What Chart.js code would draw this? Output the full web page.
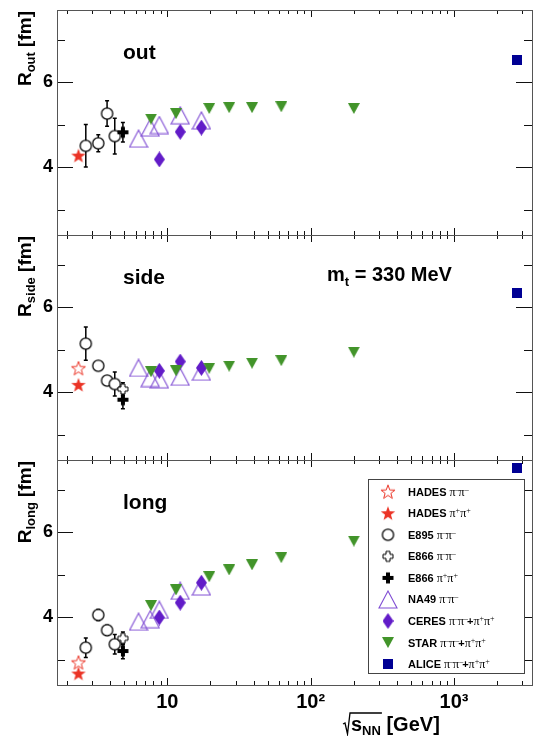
<!DOCTYPE html>
<html lang="en">
<head>
<meta charset="UTF-8">
<title>HBT radii vs collision energy</title>
<script src="https://cdn.jsdelivr.net/npm/chart.js"></script>
<style>
  html, body { margin: 0; padding: 0; background: #fff; }
  #wrap { position: relative; width: 533px; height: 736px; }
  canvas { display: block; }
</style>
</head>
<body>
<div id="wrap"><canvas id="radii" width="533" height="736"></canvas></div>
<script>
// ---- data (sqrt(sNN) in GeV, radii in fm) ----
const hadesEnergy = [2.4];
const hadesMinusSide = [4.56];
const hadesMinusLong = [2.93];
const hadesPlusOut = [4.27];
const hadesPlusSide = [4.17];
const hadesPlusLong = [2.67];

const e895Energy = [2.7, 3.3, 3.8, 4.3];
const e895Out = [4.50, 4.56, 5.26, 4.73];
const e895OutErr = [0.50, 0.20, 0.30, 0.42];
const e895Side = [5.14, 4.62, 4.27, 4.19];
const e895SideErr = [0.39, 0.08, 0.08, 0.28];
const e895Long = [3.28, 4.05, 3.69, 3.36];
const e895LongErr = [0.23, 0.13, 0.12, 0.23];

const e866Energy = [4.9];
const e866MinusSide = [4.07];
const e866MinusSideErr = [0.15];
const e866MinusLong = [3.50];
const e866MinusLongErr = [0.15];
const e866PlusOut = [4.82];
const e866PlusOutErr = [0.23];
const e866PlusSide = [3.82];
const e866PlusSideErr = [0.21];
const e866PlusLong = [3.20];
const e866PlusLongErr = [0.18];

const na49Energy = [6.3, 7.6, 8.8, 12.3, 17.3];
const na49Out = [4.67, 4.93, 4.99, 5.22, 5.10];
const na49Side = [4.57, 4.33, 4.30, 4.36, 4.48];
const na49Long = [3.89, 3.95, 4.17, 4.62, 4.72];

const ceresEnergy = [8.8, 12.3, 17.3];
const ceresOut = [4.18, 4.83, 4.93];
const ceresSide = [4.50, 4.72, 4.57];
const ceresLong = [3.99, 4.34, 4.81];

const starEnergy = [7.7, 11.5, 19.6, 27, 39, 62.4, 200];
const starOut = [5.13, 5.26, 5.38, 5.40, 5.40, 5.42, 5.38];
const starSide = [4.48, 4.50, 4.56, 4.61, 4.68, 4.74, 4.94];
const starLong = [4.27, 4.64, 4.95, 5.11, 5.23, 5.40, 5.79];

const aliceEnergy = [2760];
const aliceOut = [6.53];
const aliceSide = [6.34];
const aliceLong = [7.51];

// axes / labels
const panelIds = ['yOut', 'ySide', 'yLong'];
const panelNames = ['out', 'side', 'long'];
const yTickVals = [3, 4, 5, 6, 7];
const yTickLabels = { 4: '4', 6: '6' };
const xTickVals = [2, 3, 4, 5, 6, 7, 8, 9, 10, 20, 30, 40, 50, 60, 70, 80, 90,
                   100, 200, 300, 400, 500, 600, 700, 800, 900, 1000, 2000, 3000];
const xTickLabels = { 10: '10', 100: '10\u00b2', 1000: '10\u00b3' };
const legendNames = ['HADES', 'HADES', 'E895', 'E866', 'E866', 'NA49', 'CERES', 'STAR', 'ALICE'];
const legendPairs = ['π-π-', 'π+π+', 'π-π-', 'π-π-', 'π+π+', 'π-π-', 'π-π-+π+π+', 'π-π-+π+π+', 'π-π-+π+π+'];

// ---- marker images ----
const RED = 'rgb(235,52,38)';
const NA49C = 'rgb(128,78,212)';
const CERESC = 'rgb(98,28,200)';
const STARC = 'rgb(66,148,42)';
const ALICEC = 'rgb(0,0,148)';
const SANS = '"Liberation Sans", Arial, sans-serif';

function mk(w, h, paint) {
  const c = document.createElement('canvas');
  c.width = w; c.height = h;
  paint(c.getContext('2d'), w / 2, h / 2, w, h);
  return c;
}
function starPath(g, cx, cy, R, r) {
  g.beginPath();
  for (let i = 0; i < 10; i++) {
    const a = -Math.PI / 2 + i * Math.PI / 5;
    const rr = i % 2 ? r : R;
    g.lineTo(cx + rr * Math.cos(a), cy + rr * Math.sin(a));
  }
  g.closePath();
}
function crossPath(g, cx, cy, a, t) {
  const p = [[-t,-a],[t,-a],[t,-t],[a,-t],[a,t],[t,t],[t,a],[-t,a],[-t,t],[-a,t],[-a,-t],[-t,-t]];
  g.beginPath();
  p.forEach(q => g.lineTo(cx + q[0], cy + q[1]));
  g.closePath();
}
const mStarOpen = mk(18, 18, (g, cx, cy) => {
  starPath(g, cx, cy + 0.6, 7.4, 3.0);
  g.strokeStyle = RED; g.lineWidth = 1; g.stroke();
});
const mStarFull = mk(18, 18, (g, cx, cy) => {
  starPath(g, cx, cy + 0.6, 7.6, 3.1);
  g.fillStyle = RED; g.fill();
});
const mCircle = mk(15, 15, (g, cx, cy) => {
  g.beginPath(); g.arc(cx, cy, 5.6, 0, Math.PI * 2);
  g.fillStyle = '#fff'; g.fill();
  g.strokeStyle = '#000'; g.lineWidth = 1.3; g.stroke();
});
const mCrossOpen = mk(14, 14, (g, cx, cy) => {
  crossPath(g, cx, cy, 5, 2);
  g.fillStyle = '#fff'; g.fill();
  g.strokeStyle = '#000'; g.lineWidth = 1; g.stroke();
});
const mCrossFull = mk(14, 14, (g, cx, cy) => {
  crossPath(g, cx, cy, 5.5, 2);
  g.fillStyle = '#000'; g.fill();
});
const mTriangle = mk(20, 19, (g, cx, cy, w, h) => {
  g.beginPath(); g.moveTo(cx, 1); g.lineTo(w - 1, h - 1); g.lineTo(1, h - 1); g.closePath();
  g.strokeStyle = NA49C; g.lineWidth = 1.1; g.stroke();
});
const mDiamond = mk(11, 16, (g, cx, cy, w, h) => {
  g.beginPath(); g.moveTo(cx, 0); g.lineTo(w, cy); g.lineTo(cx, h); g.lineTo(0, cy); g.closePath();
  g.fillStyle = CERESC; g.fill();
});
const mTriDown = mk(12, 11, (g, cx, cy, w, h) => {
  g.beginPath(); g.moveTo(0, 0); g.lineTo(w, 0); g.lineTo(cx, h); g.closePath();
  g.fillStyle = STARC; g.fill();
});
const mSquare = mk(10, 10, (g, cx, cy, w, h) => {
  g.fillStyle = ALICEC; g.fillRect(0, 0, w, h);
});
const legendMarkers = [mStarOpen, mStarFull, mCircle, mCrossOpen, mCrossFull, mTriangle, mDiamond, mTriDown, mSquare];

function series(label, xs, ys, axis, style, errs) {
  return {
    label: label,
    data: xs.map((x, i) => ({ x: x, y: ys[i] })),
    yAxisID: axis,
    pointStyle: style,
    pointRadius: 5,
    errors: errs || null
  };
}

// first dataset is drawn on top
const datasets = [
  series('HADES π+π+', hadesEnergy, hadesPlusOut, 'yOut', mStarFull),
  series('HADES π+π+', hadesEnergy, hadesPlusSide, 'ySide', mStarFull),
  series('HADES π+π+', hadesEnergy, hadesPlusLong, 'yLong', mStarFull),
  series('HADES π-π-', hadesEnergy, hadesMinusSide, 'ySide', mStarOpen),
  series('HADES π-π-', hadesEnergy, hadesMinusLong, 'yLong', mStarOpen),
  series('E866 π+π+', e866Energy, e866PlusOut, 'yOut', mCrossFull, e866PlusOutErr),
  series('E866 π+π+', e866Energy, e866PlusSide, 'ySide', mCrossFull, e866PlusSideErr),
  series('E866 π+π+', e866Energy, e866PlusLong, 'yLong', mCrossFull, e866PlusLongErr),
  series('E866 π-π-', e866Energy, e866MinusSide, 'ySide', mCrossOpen, e866MinusSideErr),
  series('E866 π-π-', e866Energy, e866MinusLong, 'yLong', mCrossOpen, e866MinusLongErr),
  series('E895 π-π-', e895Energy, e895Out, 'yOut', mCircle, e895OutErr),
  series('E895 π-π-', e895Energy, e895Side, 'ySide', mCircle, e895SideErr),
  series('E895 π-π-', e895Energy, e895Long, 'yLong', mCircle, e895LongErr),
  series('ALICE', aliceEnergy, aliceOut, 'yOut', mSquare),
  series('ALICE', aliceEnergy, aliceSide, 'ySide', mSquare),
  series('ALICE', aliceEnergy, aliceLong, 'yLong', mSquare),
  series('STAR', starEnergy, starOut, 'yOut', mTriDown),
  series('STAR', starEnergy, starSide, 'ySide', mTriDown),
  series('STAR', starEnergy, starLong, 'yLong', mTriDown),
  series('CERES', ceresEnergy, ceresOut, 'yOut', mDiamond),
  series('CERES', ceresEnergy, ceresSide, 'ySide', mDiamond),
  series('CERES', ceresEnergy, ceresLong, 'yLong', mDiamond),
  series('NA49', na49Energy, na49Out, 'yOut', mTriangle),
  series('NA49', na49Energy, na49Side, 'ySide', mTriangle),
  series('NA49', na49Energy, na49Long, 'yLong', mTriangle)
];

// ---- plugins ----
const frameTicks = {
  id: 'frameTicks',
  beforeDatasetsDraw(chart) {
    const ctx = chart.ctx, xs = chart.scales.x;
    const L = xs.left, R = xs.right;
    ctx.save();
    panelIds.forEach(id => {
      const s = chart.scales[id];
      const T = s.top, B = s.bottom;
      ctx.strokeStyle = '#111';
      ctx.lineWidth = 1;
      ctx.beginPath();
      yTickVals.forEach(v => {
        const y = Math.round(s.getPixelForValue(v)) + 0.5;
        const len = yTickLabels[v] ? 16 : 8;
        ctx.moveTo(L, y); ctx.lineTo(L + len, y);
        ctx.moveTo(R, y); ctx.lineTo(R - len, y);
      });
      xTickVals.forEach(v => {
        const x = Math.round(xs.getPixelForValue(v)) + 0.5;
        const len = xTickLabels[v] ? 7 : 4;
        ctx.moveTo(x, T); ctx.lineTo(x, T + len);
        ctx.moveTo(x, B); ctx.lineTo(x, B - len);
      });
      ctx.stroke();
      ctx.strokeStyle = '#555';
      ctx.strokeRect(Math.round(L) + 0.5, Math.round(T) + 0.5, Math.round(R - L), Math.round(B - T));
    });
    // error bars
    ctx.strokeStyle = '#000';
    ctx.lineWidth = 1.5;
    chart.data.datasets.forEach(d => {
      if (!d.errors) return;
      const s = chart.scales[d.yAxisID];
      d.data.forEach((p, i) => {
        const x = xs.getPixelForValue(p.x);
        const y1 = s.getPixelForValue(p.y + d.errors[i]);
        const y2 = s.getPixelForValue(p.y - d.errors[i]);
        ctx.beginPath();
        ctx.moveTo(x, y1); ctx.lineTo(x, y2);
        ctx.moveTo(x - 2, y1); ctx.lineTo(x + 2, y1);
        ctx.moveTo(x - 2, y2); ctx.lineTo(x + 2, y2);
        ctx.stroke();
      });
    });
    ctx.restore();
  }
};

function drawPairs(ctx, str, x, y) {
  // pion pair with superscript charges
  let prev = '';
  for (const ch of str) {
    if ((ch === '-' || ch === '+') && prev === 'π') {
      ctx.font = '8px "Liberation Serif", serif';
      const t = ch === '-' ? '\u2013' : '+';
      ctx.fillText(t, x, y - 4);
      x += ctx.measureText(t).width - (ch === '-' ? 1 : 0);
    } else if (ch === 'π') {
      ctx.font = '12px "Liberation Serif", serif';
      ctx.fillText(ch, x, y);
      x += ctx.measureText(ch).width;
    } else {
      ctx.font = 'bold 11px ' + SANS;
      ctx.fillText(ch, x, y);
      x += ctx.measureText(ch).width;
    }
    prev = ch;
  }
}

const annotations = {
  id: 'annotations',
  afterDraw(chart) {
    const ctx = chart.ctx;
    ctx.save();
    ctx.fillStyle = '#000';
    ctx.textBaseline = 'alphabetic';
    ctx.textAlign = 'left';
    panelIds.forEach((id, i) => {
      const s = chart.scales[id];
      // y title R_xxx [fm], rotated
      const main = 'bold 19px ' + SANS, sub = 'bold 13px ' + SANS;
      ctx.font = main;
      const wR = ctx.measureText('R').width;
      const wRest = ctx.measureText(' [fm]').width;
      ctx.font = sub;
      const wSub = ctx.measureText(panelNames[i]).width;
      const total = wR + wSub + wRest;
      ctx.save();
      ctx.translate(31, s.top + 1 + total);
      ctx.rotate(-Math.PI / 2);
      ctx.font = main; ctx.fillText('R', 0, 0);
      ctx.font = sub; ctx.fillText(panelNames[i], wR, 4);
      ctx.font = main; ctx.fillText(' [fm]', wR + wSub, 0);
      ctx.restore();
      // panel name
      ctx.font = 'bold 21px ' + SANS;
      ctx.fillText(panelNames[i], 123, s.top + 49);
    });
    // m_t = 330 MeV
    const side = chart.scales.ySide;
    let x = 327, y = side.top + 46;
    ctx.font = 'bold 20px ' + SANS;
    ctx.fillText('m', x, y); x += ctx.measureText('m').width;
    ctx.font = 'bold 13px ' + SANS;
    ctx.fillText('t', x, y + 5); x += ctx.measureText('t').width;
    ctx.font = 'bold 20px ' + SANS;
    ctx.fillText(' = 330 MeV', x, y);

    // x title: sqrt(s_NN) [GeV]
    const xb = 731, x0 = 343;
    ctx.font = 'bold 20px ' + SANS;
    const ws = ctx.measureText('s').width;
    ctx.font = 'bold 13px ' + SANS;
    const wNN = ctx.measureText('NN').width;
    ctx.font = 'bold 20px ' + SANS;
    ctx.fillText('s', x0 + 8, xb);
    ctx.font = 'bold 13px ' + SANS;
    ctx.fillText('NN', x0 + 8 + ws, xb + 4);
    ctx.font = 'bold 20px ' + SANS;
    ctx.fillText(' [GeV]', x0 + 8 + ws + wNN, xb);
    ctx.strokeStyle = '#000';
    ctx.lineWidth = 1.3;
    ctx.beginPath();
    ctx.moveTo(x0, xb - 7);
    ctx.lineTo(x0 + 2, xb - 8);
    ctx.lineTo(x0 + 4.5, xb + 3);
    ctx.lineTo(x0 + 7, xb - 18);
    ctx.lineTo(x0 + 8 + ws + wNN + 1, xb - 18);
    ctx.stroke();

    // legend
    const bx = 368.5, by = 479.5, bw = 156, bh = 194;
    ctx.fillStyle = '#fff';
    ctx.fillRect(bx, by, bw, bh);
    ctx.strokeStyle = '#444';
    ctx.lineWidth = 1;
    ctx.strokeRect(bx, by, bw, bh);
    legendNames.forEach((name, i) => {
      const ry = 491.7 + i * 21.55;
      const m = legendMarkers[i];
      if (Chart.helpers && Chart.helpers.drawPoint) {
        Chart.helpers.drawPoint(ctx, { pointStyle: m, radius: 5, rotation: 0 }, 388, ry);
      } else {
        ctx.drawImage(m, 388 - m.width / 2, ry - m.height / 2);
      }
      ctx.fillStyle = '#000';
      ctx.font = 'bold 11px ' + SANS;
      ctx.fillText(name, 408, ry + 4);
      const w = ctx.measureText(name + ' ').width;
      drawPairs(ctx, legendPairs[i], 408 + w, ry + 4);
    });
    ctx.restore();
  }
};

function yScale() {
  return {
    type: 'linear',
    position: 'left',
    stack: 'panels',
    stackWeight: 1,
    min: 2.4,
    max: 7.7,
    grid: { display: false, drawTicks: false, tickLength: 0 },
    border: { display: false },
    afterBuildTicks: s => { s.ticks = yTickVals.map(v => ({ value: v })); },
    afterFit: s => { s.width = 57; s.paddingTop = 0; s.paddingBottom = 0; },
    ticks: {
      padding: 4,
      color: '#000',
      font: { family: SANS, size: 18, weight: 'bold' },
      callback: v => yTickLabels[v] || ''
    }
  };
}

new Chart(document.getElementById('radii'), {
  type: 'scatter',
  data: { datasets: datasets },
  options: {
    responsive: false,
    animation: false,
    events: [],
    layout: { autoPadding: false, padding: { top: 10, right: 1, left: 0, bottom: 0 } },
    plugins: { legend: { display: false }, tooltip: { enabled: false } },
    scales: {
      x: {
        type: 'logarithmic',
        min: 1.7,
        max: 3500,
        grid: { display: false, drawTicks: false, tickLength: 0 },
        border: { display: false },
        afterBuildTicks: s => { s.ticks = xTickVals.map(v => ({ value: v })); },
        afterFit: s => { s.height = 51; s.paddingLeft = 0; s.paddingRight = 0; },
        ticks: {
          autoSkip: false,
          maxRotation: 0,
          padding: 5,
          color: '#000',
          font: { family: SANS, size: 20, weight: 'bold' },
          callback: v => xTickLabels[v] || ''
        }
      },
      // stacked axes are placed bottom-up in definition order
      yLong: yScale(),
      ySide: yScale(),
      yOut: yScale()
    }
  },
  plugins: [frameTicks, annotations]
});
</script>
</body>
</html>
